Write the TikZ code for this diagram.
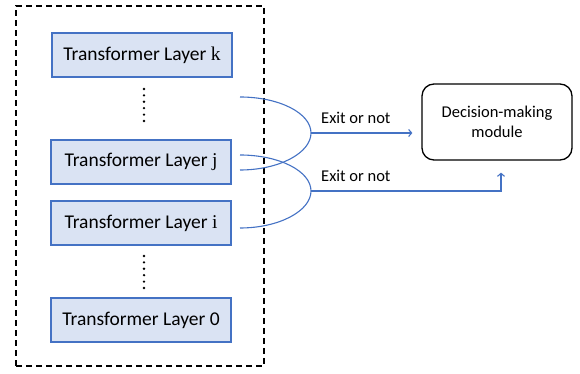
\documentclass[tikz,border=0pt]{standalone}
\usepackage{fontspec}
\setmainfont{Carlito}
\newfontfamily\varfont{Liberation Serif}
\usetikzlibrary{arrows.meta,positioning,calc}
\definecolor{layerblue}{HTML}{4472C4}
\definecolor{layerfill}{HTML}{DAE3F3}

\begin{document}
\begin{tikzpicture}[x=1pt, y=1pt,
        layer/.style={draw=layerblue, fill=layerfill, line width=1.3pt,
                minimum width=180pt, minimum height=44pt, inner sep=0pt,
                font=\fontsize{19.5}{22}\selectfont},
        exitflow/.style={draw=layerblue, line width=1.1pt},
        exitlabel/.style={inner sep=0pt, font=\fontsize{16.5}{20}\selectfont},
        decider/.style={draw, line width=1.3pt, rounded corners=12pt,
                minimum width=150pt, minimum height=76pt, align=center,
                font=\fontsize{16.5}{20}\selectfont}]
    \useasboundingbox (0,0) rectangle (580,374);

    % ---- LAYER STACK ----
    \draw[line width=1.3pt, dash pattern=on 6pt off 4pt] (16,8) rectangle (264,368);

    \node[layer] (lk) at (142,319) {Transformer Layer {\varfont k}};
    \node[layer] (lj) at (141,212) {Transformer Layer {\varfont j}};
    \node[layer] (li) at (141,151) {Transformer Layer {\varfont i}};
    \node[layer] (l0) at (141,54) {Transformer Layer 0};

    % dots between the layers
    \foreach \y in {0,...,5} {
            \fill (144,{285-\y*6.4}) circle (1.3pt);
            \fill (144,{118-\y*6.4}) circle (1.3pt);
        }

    % ---- EXITS ----
    \node[decider] (dm) at (497,252) {Decision-making\\module};

    \coordinate (upA) at (240,277);
    \coordinate (upB) at (240,204);
    \coordinate (upTip) at (311,241);
    \coordinate (lowA) at (240,219);
    \coordinate (lowB) at (240,146);
    \coordinate (lowTip) at (311,183);

    \draw[exitflow] (upA) .. controls +(39,0) and +(0,20) .. (upTip)
        .. controls +(0,-20) and +(39,0) .. (upB);
    \draw[exitflow] (lowA) .. controls +(39,0) and +(0,20) .. (lowTip)
        .. controls +(0,-20) and +(39,0) .. (lowB);

    \draw[exitflow, -{Straight Barb[length=3pt, width=7pt]}, shorten >=9pt]
        (upTip) -- (upTip -| dm.west);
    \draw[exitflow, -{Straight Barb[length=3pt, width=7pt]}, shorten >=12pt]
        (lowTip) -| ([xshift=4pt]dm.south);

    \node[exitlabel, above right=9pt and 10pt of upTip] (ex1) {Exit or not};
    \node[exitlabel, above right=9pt and 10pt of lowTip] (ex2) {Exit or not};

\end{tikzpicture}
\end{document}
